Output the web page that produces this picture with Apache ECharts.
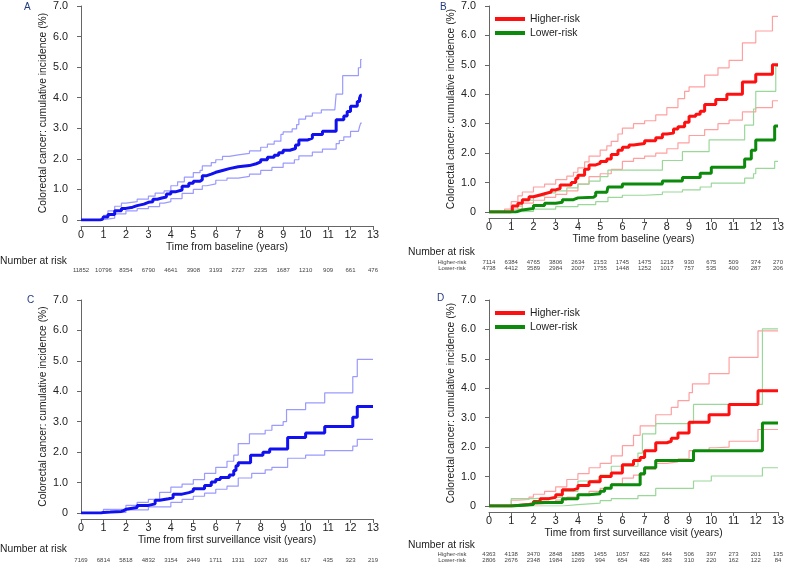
<!DOCTYPE html>
<html><head><meta charset="utf-8">
<script src="https://cdn.jsdelivr.net/npm/echarts@6/dist/echarts.min.js"></script>
<style>html,body{margin:0;padding:0;background:#fff}#c{width:787px;height:568px}</style>
</head><body><div id="c"></div>
<script>
// ---------- data ----------
const years = [0,1,2,3,4,5,6,7,8,9,10,11,12,13];
const A_risk = [11852,10796,8354,6790,4641,3908,3193,2727,2235,1687,1210,909,661,476];
const B_riskHigh = [7114,6384,4765,3806,2634,2153,1745,1475,1218,930,675,509,374,270];
const B_riskLow = [4738,4412,3589,2984,2007,1755,1448,1252,1017,757,535,400,287,206];
const C_risk = [7169,6814,5818,4832,3154,2449,1711,1311,1027,816,617,435,323,219];
const D_riskHigh = [4363,4138,3470,2848,1885,1455,1057,822,644,506,397,273,201,135];
const D_riskLow = [2806,2676,2348,1984,1269,994,654,489,383,310,220,162,122,84];

const A_est = [[0,0],[0.85,0.02],[0.95,0.05],[1.0,0.1],[1.2,0.18],[1.5,0.3],[1.8,0.38],[2.0,0.42],[2.3,0.47],[2.5,0.52],[2.8,0.58],[3.0,0.6],[3.2,0.68],[3.4,0.72],[3.6,0.75],[3.8,0.85],[4.0,0.92],[4.2,0.98],[4.5,1.1],[4.8,1.2],[5.0,1.27],[5.3,1.32],[5.4,1.45],[5.6,1.5],[5.8,1.56],[6.0,1.62],[6.3,1.68],[6.6,1.74],[7.0,1.78],[7.5,1.84],[7.8,1.9],[8.0,1.97],[8.3,2.05],[8.6,2.12],[8.8,2.2],[9.0,2.28],[9.3,2.34],[9.55,2.45],[9.7,2.62],[10.1,2.68],[10.3,2.8],[10.75,2.9],[11.36,3.28],[11.7,3.4],[11.85,3.55],[12.0,3.72],[12.3,3.88],[12.4,3.98],[12.45,4.08],[12.5,4.08]];
const A_hi = [[0,0],[0.85,0.03],[1.0,0.15],[1.2,0.3],[1.5,0.45],[1.8,0.55],[2.0,0.6],[2.5,0.68],[3.0,0.78],[3.3,0.88],[3.7,0.95],[4.0,1.12],[4.3,1.25],[4.6,1.4],[5.0,1.55],[5.3,1.62],[5.4,1.77],[5.8,1.88],[6.0,1.97],[6.3,2.08],[6.6,2.13],[7.0,2.18],[7.5,2.26],[8.0,2.38],[8.3,2.48],[8.6,2.58],[8.9,2.8],[9.0,2.88],[9.4,2.98],[9.6,3.12],[9.7,3.3],[10.0,3.4],[10.3,3.5],[10.7,3.6],[11.3,3.65],[11.36,4.12],[11.65,4.72],[12.35,4.98],[12.45,5.25],[12.5,5.25]];
const A_lo = [[0,0],[0.85,0.01],[1.0,0.06],[1.5,0.2],[2.0,0.3],[2.5,0.37],[3.0,0.44],[3.5,0.55],[3.7,0.6],[4.0,0.7],[4.5,0.87],[5.0,1.0],[5.4,1.12],[5.6,1.18],[6.0,1.3],[6.5,1.37],[7.0,1.43],[7.5,1.5],[8.0,1.62],[8.5,1.72],[9.0,1.86],[9.5,1.97],[9.7,2.1],[10.3,2.22],[10.75,2.32],[11.36,2.5],[11.5,2.6],[11.7,2.72],[12.0,2.9],[12.35,2.93],[12.4,3.05],[12.45,3.17],[12.5,3.17]];

const B_highEst = [[0,0],[0.95,0.02],[1.05,0.2],[1.3,0.3],[1.5,0.42],[1.8,0.52],[2.0,0.58],[2.3,0.62],[2.5,0.68],[2.8,0.75],[3.0,0.8],[3.2,0.92],[3.7,1.0],[3.9,1.15],[4.0,1.25],[4.3,1.45],[4.5,1.6],[4.8,1.65],[5.0,1.72],[5.3,1.8],[5.5,1.95],[5.8,2.1],[6.0,2.2],[6.3,2.28],[6.5,2.33],[7.0,2.42],[7.5,2.52],[7.8,2.65],[8.0,2.68],[8.3,2.82],[8.5,2.9],[8.8,3.05],[9.0,3.25],[9.3,3.32],[9.5,3.42],[9.7,3.65],[10.2,3.82],[10.7,4.0],[11.4,4.42],[12.0,4.68],[12.75,5.0],[13.0,5.0]];
const B_highHi = [[0,0],[0.7,0.1],[1.0,0.35],[1.3,0.55],[1.5,0.68],[2.0,0.85],[2.5,0.95],[3.0,1.1],[3.5,1.22],[3.8,1.35],[4.0,1.5],[4.3,1.7],[4.5,1.9],[5.0,2.1],[5.3,2.25],[5.5,2.4],[5.8,2.65],[6.0,2.85],[6.5,3.0],[7.0,3.1],[7.5,3.3],[8.0,3.55],[8.5,3.85],[8.8,4.1],[9.0,4.25],[9.7,4.65],[10.3,4.9],[10.8,5.15],[11.4,5.75],[12.0,6.15],[12.75,6.65],[13.0,6.65]];
const B_highLo = [[0,0],[1.0,0.1],[1.5,0.3],[2.0,0.4],[2.5,0.5],[3.0,0.6],[3.5,0.72],[4.0,0.95],[4.5,1.2],[5.0,1.3],[5.5,1.45],[6.0,1.72],[6.5,1.82],[7.0,1.9],[7.5,2.0],[8.0,2.15],[8.5,2.35],[9.0,2.6],[9.7,2.8],[10.3,3.0],[10.8,3.12],[11.4,3.4],[12.0,3.55],[12.75,3.78],[13.0,3.78]];
const B_lowEst = [[0,0],[1.2,0.02],[1.3,0.07],[1.5,0.12],[2.0,0.22],[2.5,0.3],[3.0,0.33],[3.3,0.42],[3.8,0.48],[4.0,0.5],[4.7,0.55],[4.8,0.67],[5.3,0.7],[5.35,0.85],[6.0,0.95],[7.8,1.05],[8.7,1.17],[9.5,1.32],[10.0,1.52],[11.5,1.8],[11.8,2.1],[12.0,2.45],[12.85,2.92],[13.0,2.92]];
const B_lowHi = [[0,0],[1.2,0.05],[1.3,0.2],[1.5,0.4],[2.0,0.55],[2.5,0.65],[3.0,0.72],[3.5,0.82],[4.0,0.95],[4.5,1.05],[5.0,1.2],[5.35,1.42],[7.8,1.75],[8.7,2.05],[9.9,2.45],[11.5,2.95],[11.9,3.5],[12.0,4.1],[12.9,4.95],[13.0,4.95]];
const B_lowLo = [[0,0],[1.3,0.02],[2.0,0.1],[3.0,0.18],[4.0,0.25],[4.8,0.35],[5.35,0.5],[6.0,0.57],[7.0,0.6],[7.8,0.68],[8.7,0.75],[9.5,0.85],[10.0,0.98],[11.5,1.15],[11.9,1.3],[12.0,1.48],[12.85,1.72],[13.0,1.72]];

const C_est = [[0,0],[0.9,0.02],[1.0,0.03],[1.3,0.05],[1.8,0.08],[1.9,0.12],[2.0,0.18],[2.5,0.25],[3.0,0.3],[3.3,0.42],[3.5,0.47],[3.9,0.5],[4.1,0.62],[4.5,0.67],[4.8,0.72],[5.0,0.8],[5.5,0.9],[5.8,1.02],[6.0,1.1],[6.2,1.17],[6.6,1.25],[6.8,1.4],[6.9,1.55],[7.0,1.65],[7.55,1.9],[8.1,2.0],[8.4,2.1],[9.2,2.48],[10.0,2.63],[10.85,2.84],[12.1,3.15],[12.3,3.5],[13.0,3.5]];
const C_hi = [[0,0],[0.9,0.05],[1.0,0.12],[2.0,0.25],[2.5,0.35],[3.0,0.45],[3.5,0.68],[4.0,0.85],[4.5,0.95],[5.0,1.1],[5.5,1.3],[6.0,1.5],[6.5,1.7],[6.8,1.9],[7.0,2.28],[7.5,2.6],[8.2,2.72],[8.5,2.88],[9.0,3.0],[9.15,3.4],[10.0,3.62],[10.85,3.95],[12.1,4.48],[12.3,5.05],[13.0,5.05]];
const C_lo = [[0,0],[1.0,0.02],[2.0,0.1],[3.0,0.2],[4.0,0.35],[4.5,0.45],[5.0,0.55],[5.5,0.65],[6.0,0.78],[6.5,0.88],[7.0,1.15],[7.6,1.3],[8.2,1.42],[8.5,1.5],[9.2,1.8],[10.0,1.9],[10.85,2.05],[12.1,2.2],[12.3,2.42],[13.0,2.42]];

const D_highEst = [[0,0],[1.0,0.05],[1.8,0.08],[2.0,0.15],[2.3,0.25],[2.7,0.3],[3.0,0.38],[3.3,0.55],[3.8,0.6],[4.0,0.7],[4.5,0.82],[5.0,1.0],[5.5,1.12],[6.0,1.4],[6.5,1.55],[6.8,1.65],[7.0,1.88],[7.5,2.15],[8.0,2.2],[8.2,2.3],[8.5,2.48],[9.0,2.85],[9.9,3.1],[10.8,3.45],[12.1,3.92],[13.0,3.92]];
const D_highHi = [[0,0],[1.0,0.2],[1.3,0.22],[1.8,0.3],[2.0,0.4],[2.5,0.5],[3.0,0.65],[3.5,0.9],[4.0,1.1],[4.5,1.3],[5.0,1.45],[5.5,1.7],[6.0,2.05],[6.5,2.4],[6.8,2.72],[7.5,3.1],[8.2,3.35],[8.5,3.58],[9.0,3.85],[9.15,4.15],[9.9,4.5],[10.8,5.05],[12.1,5.95],[13.0,5.95]];
const D_highLo = [[0,0],[1.8,0.05],[2.0,0.08],[2.5,0.12],[3.0,0.2],[3.5,0.3],[4.0,0.4],[4.5,0.5],[5.0,0.6],[5.5,0.75],[6.0,0.95],[6.5,1.05],[7.0,1.25],[7.5,1.45],[8.0,1.5],[8.5,1.6],[9.0,1.88],[9.9,1.98],[10.2,2.0],[10.8,2.2],[12.1,2.6],[13.0,2.6]];
const D_lowEst = [[0,0],[1.0,0.05],[2.0,0.12],[3.3,0.25],[4.0,0.38],[4.5,0.42],[5.0,0.5],[5.2,0.6],[5.5,0.72],[6.7,0.72],[6.8,1.1],[7.0,1.3],[7.5,1.55],[9.2,1.88],[12.3,2.82],[13.0,2.82]];
const D_lowHi = [[0,0],[1.0,0.25],[2.0,0.3],[3.3,0.5],[4.0,0.85],[4.5,0.9],[5.0,1.05],[5.5,1.35],[6.7,1.8],[6.9,2.45],[7.5,2.8],[9.2,3.45],[12.3,6.02],[13.0,6.02]];
const D_lowLo = [[0,0],[1.0,0.0],[3.3,0.05],[4.0,0.1],[5.0,0.18],[5.5,0.25],[6.7,0.35],[7.5,0.6],[9.2,0.85],[10.0,1.02],[12.3,1.3],[13.0,1.3]];

// ---------- styles ----------
const FONT = '"Liberation Sans", Arial, sans-serif';
const FS = 10.3;
const BLUE = '#1010f0', BLUE_L = '#9a9aff';
const RED = '#ff1010', RED_L = '#ffa0a0';
const GREEN = '#0b8a0b', GREEN_L = '#9ad89a';
const YTITLE = 'Colorectal cancer: cumulative incidence (%)';

const grids = [
  {left: 81, top: 6, width: 292, height: 214},
  {left: 489, top: 6, width: 290, height: 206},
  {left: 81, top: 300, width: 292, height: 213},
  {left: 489, top: 300, width: 290, height: 206}
];
const xTitles = ['Time from baseline (years)', 'Time from baseline (years)',
  'Time from first surveillance visit (years)', 'Time from first surveillance visit (years)'];

const xAxes = [], yAxes = [];
grids.forEach((g, i) => {
  xAxes.push({
    gridIndex: i, type: 'value', min: 0, max: 13, interval: 1, offset: 6,
    name: xTitles[i], nameLocation: 'middle', nameGap: 16,
    nameTextStyle: {fontFamily: FONT, fontSize: FS, color: '#222'},
    axisLine: {show: true, onZero: false, lineStyle: {color: '#666', width: 1}},
    axisTick: {show: true, length: 4, lineStyle: {color: '#666'}},
    axisLabel: {fontFamily: FONT, fontSize: 10.8, color: '#222', margin: 4},
    splitLine: {show: false}
  });
  yAxes.push({
    gridIndex: i, type: 'value', min: 0, max: 7, interval: 1, offset: 7,
    name: YTITLE, nameLocation: 'middle', nameGap: 26,
    nameTextStyle: {fontFamily: FONT, fontSize: FS, color: '#222'},
    axisLine: {show: true, lineStyle: {color: '#666', width: 1}},
    axisTick: {show: true, length: 4, lineStyle: {color: '#666'}},
    axisLabel: {fontFamily: FONT, fontSize: 10.8, color: '#222', margin: 6,
      formatter: v => v === 0 ? '0' : v.toFixed(1)},
    splitLine: {show: false}
  });
});

// number-at-risk rows as extra x axes
function riskAxis(gridIndex, arr, offset) {
  return {
    gridIndex, type: 'value', min: 0, max: 13, interval: 1, position: 'bottom', offset,
    axisLine: {show: false}, axisTick: {show: false}, splitLine: {show: false},
    axisLabel: {fontFamily: FONT, fontSize: 6, color: '#444', margin: 0,
      showMinLabel: true, showMaxLabel: true,
      formatter: v => { const k = years.indexOf(Math.round(v)); return k >= 0 ? String(arr[k]) : ''; }}
  };
}
xAxes.push(riskAxis(0, A_risk, 47));
xAxes.push(riskAxis(1, B_riskHigh, 47));
xAxes.push(riskAxis(1, B_riskLow, 53));
xAxes.push(riskAxis(2, C_risk, 44));
xAxes.push(riskAxis(3, D_riskHigh, 45));
xAxes.push(riskAxis(3, D_riskLow, 51));

function line(name, data, idx, color, width, z) {
  return {name, type: 'line', data, xAxisIndex: idx, yAxisIndex: idx, step: 'end',
    showSymbol: false, symbol: 'none', silent: true, z,
    lineStyle: {color, width}, itemStyle: {color}};
}

const series = [
  line('A upper', A_hi, 0, BLUE_L, 1.2, 2), line('A lower', A_lo, 0, BLUE_L, 1.2, 2), line('Overall', A_est, 0, BLUE, 3, 3),
  line('B high upper', B_highHi, 1, RED_L, 1.2, 2), line('B high lower', B_highLo, 1, RED_L, 1.2, 2),
  line('B low upper', B_lowHi, 1, GREEN_L, 1.2, 2), line('B low lower', B_lowLo, 1, GREEN_L, 1.2, 2),
  line('Higher-risk', B_highEst, 1, RED, 3, 3), line('Lower-risk', B_lowEst, 1, GREEN, 3, 3),
  line('C upper', C_hi, 2, BLUE_L, 1.2, 2), line('C lower', C_lo, 2, BLUE_L, 1.2, 2), line('Overall C', C_est, 2, BLUE, 3, 3),
  line('D high upper', D_highHi, 3, RED_L, 1.2, 2), line('D high lower', D_highLo, 3, RED_L, 1.2, 2),
  line('D low upper', D_lowHi, 3, GREEN_L, 1.2, 2), line('D low lower', D_lowLo, 3, GREEN_L, 1.2, 2),
  line('Higher-risk', D_highEst, 3, RED, 3, 3), line('Lower-risk', D_lowEst, 3, GREEN, 3, 3)
];

function legendAt(top) {
  return {data: ['Higher-risk', 'Lower-risk'], orient: 'vertical', left: 490, top,
    icon: 'rect', itemWidth: 30, itemHeight: 4, itemGap: 0, selectedMode: false,
    textStyle: {fontFamily: FONT, fontSize: FS, color: '#222', lineHeight: 14}};
}

function txt(x, y, text, size, color, align) {
  return {type: 'text', x, y, silent: true,
    style: {text, fontFamily: FONT, fontSize: size, fill: color, align: align || 'left', verticalAlign: 'middle'}};
}
const graphics = [
  txt(24, 7, 'A', 10, '#223a80'), txt(440, 7, 'B', 10, '#223a80'),
  txt(27, 300, 'C', 10, '#223a80'), txt(437, 298, 'D', 10, '#223a80'),
  txt(0, 261, 'Number at risk', FS, '#222'),
  txt(408, 252, 'Number at risk', FS, '#222'),
  txt(0, 549, 'Number at risk', FS, '#222'),
  txt(408, 545, 'Number at risk', FS, '#222'),
  txt(452, 262, 'Higher-risk', 6, '#444', 'center'), txt(452, 268, 'Lower-risk', 6, '#444', 'center'),
  txt(452, 554, 'Higher-risk', 6, '#444', 'center'), txt(452, 560, 'Lower-risk', 6, '#444', 'center')
];

const chart = echarts.init(document.getElementById('c'), null, {renderer: 'canvas'});
chart.setOption({
  animation: false,
  backgroundColor: '#fff',
  grid: grids,
  xAxis: xAxes,
  yAxis: yAxes,
  legend: [legendAt(7), legendAt(301)],
  series,
  graphic: graphics
});
</script></body></html>
